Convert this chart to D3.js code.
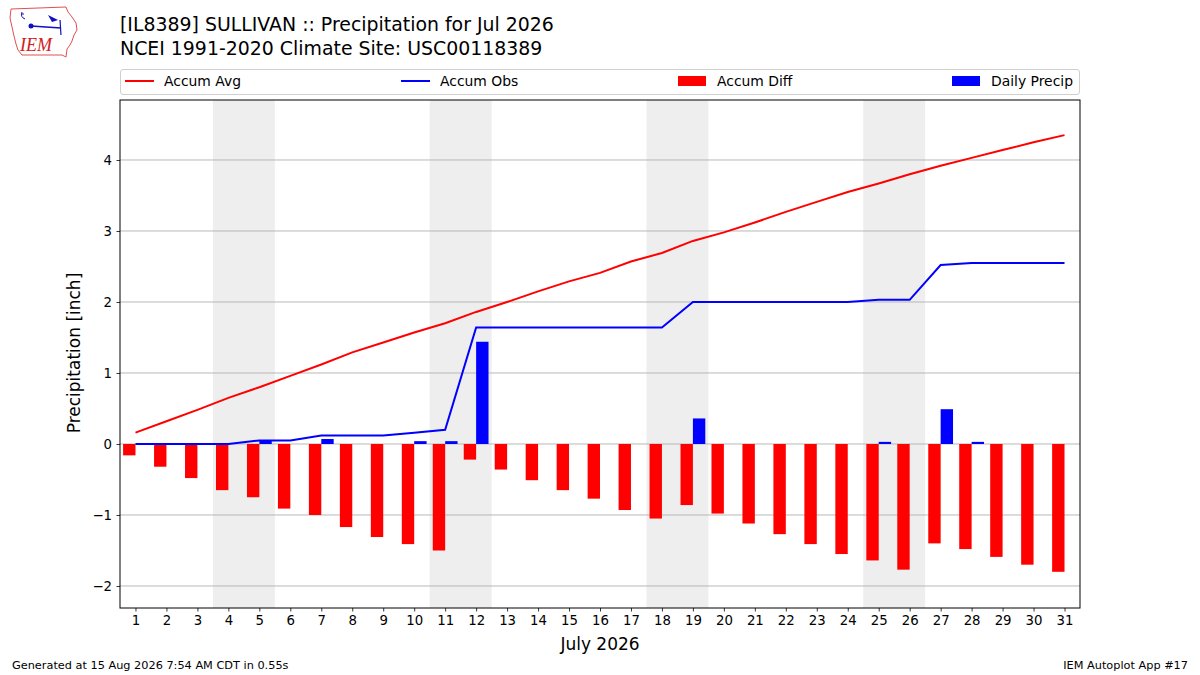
<!DOCTYPE html>
<html>
<head>
<meta charset="utf-8">
<script src="https://cdn.jsdelivr.net/npm/d3@7"></script>
<style>
  html, body { margin: 0; padding: 0; background: #fff; }
  svg { display: block; font-family: "DejaVu Sans", sans-serif; }
</style>
</head>
<body>
<svg id="chart" width="1200" height="675"></svg>
<script>
// ---------- data ----------
const days = d3.range(1, 32);
const dayLabels = days.map(String);
const accumAvg = [0.16, 0.32, 0.48, 0.65, 0.80, 0.96, 1.12, 1.29, 1.43, 1.57, 1.70,
                  1.86, 2.00, 2.15, 2.29, 2.41, 2.57, 2.69, 2.86, 2.98, 3.12, 3.27,
                  3.41, 3.55, 3.67, 3.80, 3.92, 4.03, 4.14, 4.25, 4.35];
const accumObs = [0.00, 0.00, 0.00, 0.00, 0.05, 0.05, 0.12, 0.12, 0.12, 0.16, 0.20,
                  1.64, 1.64, 1.64, 1.64, 1.64, 1.64, 1.64, 2.00, 2.00, 2.00, 2.00,
                  2.00, 2.00, 2.03, 2.03, 2.52, 2.55, 2.55, 2.55, 2.55];
const accumDiff = [-0.16, -0.32, -0.48, -0.65, -0.75, -0.91, -1.00, -1.17, -1.31, -1.41, -1.50,
                   -0.22, -0.36, -0.51, -0.65, -0.77, -0.93, -1.05, -0.86, -0.98, -1.12, -1.27,
                   -1.41, -1.55, -1.64, -1.77, -1.40, -1.48, -1.59, -1.70, -1.80];
const dailyPrecip = [0, 0, 0, 0, 0.05, 0, 0.07, 0, 0, 0.04, 0.04,
                     1.44, 0, 0, 0, 0, 0, 0, 0.36, 0, 0, 0,
                     0, 0, 0.03, 0, 0.49, 0.03, 0, 0, 0];
const weekends = [[4, 5], [11, 12], [18, 19], [25, 26]];
const yTicks = [-2, -1, 0, 1, 2, 3, 4];
const titleLines = ["[IL8389] SULLIVAN :: Precipitation for Jul 2026",
                    "NCEI 1991-2020 Climate Site: USC00118389"];
const legendItems = [
  {label: "Accum Avg", type: "line", color: "#ff0000"},
  {label: "Accum Obs", type: "line", color: "#0000ff"},
  {label: "Accum Diff", type: "rect", color: "#ff0000"},
  {label: "Daily Precip", type: "rect", color: "#0000ff"}
];

// ---------- layout ----------
const svg = d3.select("#chart");
const L = 120, R = 1080, T = 100, B = 608;
const x = d3.scaleLinear().domain([0.5, 31.5]).range([L, R]);
const y = d3.scaleLinear().domain([-2.31, 4.845]).range([B, T]);
const barW = 0.4;

// logo
const logo = svg.append("g");
logo.append("path")
  .attr("d", "M11,9 L66,7 L68,12 L72,17 L76,23 L77,30 L74,35 L72,41 L70,45 L67,49 L66,57 L62,55 L22,55 L18,50 L16,44 L14,36 L12,27 L10,18 Z")
  .attr("fill", "none").attr("stroke", "#e05050").attr("stroke-width", 1);
logo.append("circle").attr("cx", 31).attr("cy", 26).attr("r", 2.5).attr("fill", "#1010c0");
logo.append("line").attr("x1", 31).attr("y1", 26).attr("x2", 61).attr("y2", 28).attr("stroke", "#1010c0").attr("stroke-width", 1.5);
logo.append("path").attr("d", "M48,15 L58,20 L52,22 Z").attr("fill", "#1010c0");
logo.append("line").attr("x1", 60).attr("y1", 20).attr("x2", 61).attr("y2", 35).attr("stroke", "#1010c0").attr("stroke-width", 1.2);
logo.append("path").attr("d", "M22,12 Q20,17 25,19 M21,14 L24,14").attr("fill", "none").attr("stroke", "#1010c0").attr("stroke-width", 1);
logo.append("text").attr("x", 20).attr("y", 51)
  .attr("font-family", "Liberation Serif, serif").attr("font-style", "italic")
  .attr("font-size", 18).attr("fill", "#d02020").text("IEM");

// titles
titleLines.forEach((t, i) => {
  svg.append("text").attr("x", 120).attr("y", 31 + i * 24)
    .attr("font-size", 18.9).attr("fill", "#000").text(t);
});

// legend
const lg = svg.append("g");
lg.append("rect").attr("x", 120.5).attr("y", 69.5).attr("width", 959).attr("height", 25)
  .attr("rx", 2.5).attr("fill", "#fff").attr("stroke", "#d0d0d0");
const legendX = [125, 401, 678, 952];
legendItems.forEach((it, i) => {
  const gx = legendX[i];
  if (it.type === "line") {
    lg.append("line").attr("x1", gx).attr("x2", gx + 29).attr("y1", 81).attr("y2", 81)
      .attr("stroke", it.color).attr("stroke-width", 2);
  } else {
    lg.append("rect").attr("x", gx).attr("y", 76).attr("width", 28).attr("height", 10).attr("fill", it.color);
  }
  lg.append("text").attr("x", gx + 39).attr("y", 86).attr("font-size", 13.9).attr("fill", "#000").text(it.label);
});

// weekend shading
const plot = svg.append("g");
plot.selectAll("rect.wk").data(weekends).enter().append("rect")
  .attr("x", d => x(d[0] - 0.5)).attr("width", d => x(d[1] + 0.5) - x(d[0] - 0.5))
  .attr("y", T).attr("height", B - T).attr("fill", "#eeeeee");

// grid
plot.selectAll("line.grid").data(yTicks).enter().append("line")
  .attr("x1", L).attr("x2", R).attr("y1", d => y(d)).attr("y2", d => y(d))
  .attr("stroke", "#b0b0b0").attr("stroke-width", 0.9);

// diff bars
plot.selectAll("rect.diff").data(days).enter().append("rect")
  .attr("x", (d) => x(d - barW)).attr("width", x(barW) - x(0))
  .attr("y", (d, i) => y(Math.max(0, accumDiff[i])))
  .attr("height", (d, i) => Math.abs(y(accumDiff[i]) - y(0)))
  .attr("fill", "#ff0000");

// daily precip bars
plot.selectAll("rect.daily").data(days).enter().append("rect")
  .attr("x", (d) => x(d)).attr("width", x(barW) - x(0))
  .attr("y", (d, i) => y(dailyPrecip[i]))
  .attr("height", (d, i) => y(0) - y(dailyPrecip[i]))
  .attr("fill", "#0000ff");

// lines
const line = d3.line().x(d => x(d[0])).y(d => y(d[1]));
plot.append("path").datum(days.map((d, i) => [d, accumAvg[i]]))
  .attr("d", line).attr("fill", "none").attr("stroke", "#ff0000").attr("stroke-width", 2);
plot.append("path").datum(days.map((d, i) => [d, accumObs[i]]))
  .attr("d", line).attr("fill", "none").attr("stroke", "#0000ff").attr("stroke-width", 2);

// frame
svg.append("rect").attr("x", L).attr("y", T).attr("width", R - L).attr("height", B - T)
  .attr("fill", "none").attr("stroke", "#000").attr("stroke-width", 1);

// axes
const fmt = d => (d < 0 ? "\u2212" + Math.abs(d) : String(d));
const yAxis = svg.append("g").attr("transform", `translate(${L},0)`)
  .call(d3.axisLeft(y).tickValues(yTicks).tickFormat(fmt).tickSize(3.5).tickPadding(4.5));
const xAxis = svg.append("g").attr("transform", `translate(0,${B})`)
  .call(d3.axisBottom(x).tickValues(days).tickFormat((d, i) => dayLabels[i]).tickSize(3.5).tickPadding(4.5));
[yAxis, xAxis].forEach(a => {
  a.select(".domain").remove();
  a.selectAll("text").attr("font-family", "DejaVu Sans, sans-serif").attr("font-size", 13.3).attr("fill", "#000");
  a.selectAll("line").attr("stroke", "#000").attr("stroke-width", 0.8);
});

// axis labels
svg.append("text").attr("x", 600).attr("y", 650).attr("text-anchor", "middle")
  .attr("font-size", 17).text("July 2026");
svg.append("text").attr("transform", "translate(80,353) rotate(-90)").attr("text-anchor", "middle")
  .attr("font-size", 17).text("Precipitation [inch]");

// footer
svg.append("text").attr("x", 12).attr("y", 669).attr("font-size", 11.3).text("Generated at 15 Aug 2026 7:54 AM CDT in 0.55s");
svg.append("text").attr("x", 1188).attr("y", 669).attr("text-anchor", "end").attr("font-size", 11.3).text("IEM Autoplot App #17");
</script>
</body>
</html>
